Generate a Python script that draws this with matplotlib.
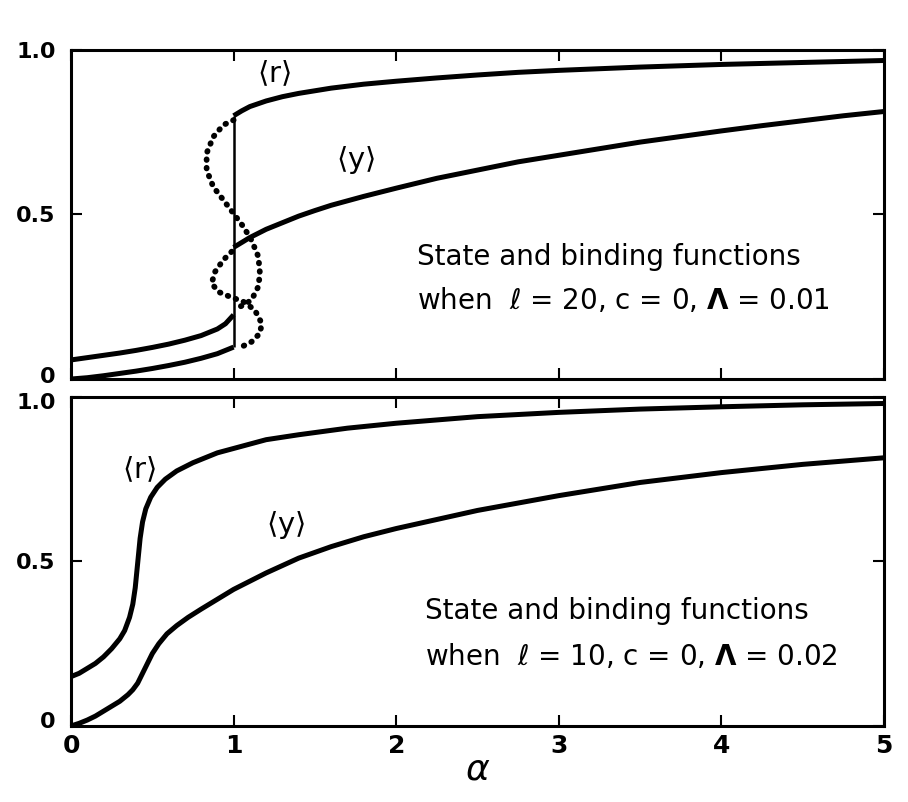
import numpy as np
import matplotlib.pyplot as plt
import matplotlib.transforms as mtransforms

# ============================================================
# DADOS
# ============================================================
# painel superior: l = 20, c = 0, Lambda = 0.01
r_baixo_x = [0.0, 0.1, 0.2, 0.3, 0.4, 0.5, 0.6, 0.7, 0.8, 0.9, 0.95, 1.0]
r_baixo_y = [0.058, 0.065, 0.072, 0.079, 0.087, 0.096, 0.106, 0.118, 0.132, 0.152, 0.168, 0.195]
y_baixo_x = [0.0, 0.1, 0.2, 0.3, 0.4, 0.5, 0.6, 0.7, 0.8, 0.9, 1.0]
y_baixo_y = [0.0, 0.004, 0.01, 0.017, 0.024, 0.032, 0.041, 0.051, 0.063, 0.077, 0.097]

r_cima_x = [1.0, 1.05, 1.1, 1.2, 1.3, 1.4, 1.6, 1.8, 2.0, 2.25, 2.5, 2.75, 3.0, 3.5, 4.0, 4.5, 5.0]
r_cima_y = [0.80, 0.815, 0.828, 0.845, 0.858, 0.868, 0.884, 0.896, 0.905, 0.915, 0.924, 0.932, 0.938, 0.948, 0.956, 0.962, 0.968]
y_cima_x = [1.0, 1.05, 1.1, 1.2, 1.3, 1.4, 1.5, 1.6, 1.8, 2.0, 2.25, 2.5, 2.75, 3.0, 3.25, 3.5,
            3.75, 4.0, 4.25, 4.5, 4.75, 5.0]
y_cima_y = [0.40, 0.415, 0.43, 0.455, 0.475, 0.495, 0.512, 0.528, 0.555, 0.58, 0.61, 0.635, 0.66, 0.68,
            0.70, 0.72, 0.737, 0.754, 0.77, 0.785, 0.80, 0.813]

# ramos instáveis (pontilhado)
r_inst_x = [1.0, 0.937, 0.875, 0.834, 0.834, 0.875, 0.937, 0.998, 1.06, 1.11, 1.152, 1.162,
            1.152, 1.11, 1.06, 1.019]
r_inst_y = [0.787, 0.772, 0.736, 0.686, 0.635, 0.584, 0.544, 0.504, 0.463, 0.422, 0.372, 0.321,
            0.281, 0.24, 0.225, 0.215]
y_inst_x = [0.988, 0.937, 0.886, 0.865, 0.906, 0.978, 1.06, 1.13, 1.173, 1.162, 1.11, 1.05]
y_inst_y = [0.387, 0.362, 0.326, 0.291, 0.265, 0.25, 0.235, 0.21, 0.169, 0.139, 0.113, 0.098]

salto_x = 1.0
salto_y = [0.097, 0.80]

# painel inferior: l = 10, c = 0, Lambda = 0.02
r2_x = [0.0, 0.05, 0.1, 0.15, 0.2, 0.25, 0.3, 0.33, 0.36, 0.38, 0.395, 0.405, 0.415, 0.425, 0.44,
        0.46, 0.49, 0.53, 0.58, 0.65, 0.75, 0.9, 1.05, 1.2, 1.4, 1.7, 2.0, 2.5, 3.0, 3.5, 4.0, 4.5, 5.0]
r2_y = [0.15, 0.16, 0.175, 0.19, 0.21, 0.235, 0.265, 0.29, 0.33, 0.37, 0.42, 0.47, 0.52, 0.57, 0.62,
        0.66, 0.695, 0.725, 0.75, 0.775, 0.80, 0.83, 0.85, 0.87, 0.885, 0.905, 0.92, 0.94, 0.953,
        0.963, 0.97, 0.976, 0.98]
y2_x = [0.0, 0.05, 0.1, 0.15, 0.2, 0.25, 0.3, 0.35, 0.38, 0.41, 0.44, 0.47, 0.5, 0.54, 0.59, 0.65,
        0.72, 0.8, 0.9, 1.0, 1.1, 1.2, 1.4, 1.6, 1.8, 2.0, 2.5, 3.0, 3.5, 4.0, 4.5, 5.0]
y2_y = [0.0, 0.008, 0.018, 0.03, 0.045, 0.06, 0.075, 0.095, 0.11, 0.13, 0.16, 0.19, 0.22, 0.25, 0.28,
        0.305, 0.33, 0.355, 0.385, 0.415, 0.44, 0.465, 0.51, 0.545, 0.575, 0.60, 0.655, 0.70, 0.74,
        0.77, 0.795, 0.815]

xticks = [0, 1, 2, 3, 4, 5]
xlabels = ['0', '1', '2', '3', '4', '5']
yticks = [0, 0.5, 1.0]
ylabels = ['0', '0.5', '1.0']

texto_cima = ["State and binding functions",
              r"when  $\ell$ = 20, c = 0, $\mathbf{\Lambda}$ = 0.01"]
texto_baixo = ["State and binding functions",
               r"when  $\ell$ = 10, c = 0, $\mathbf{\Lambda}$ = 0.02"]

# ============================================================
# FIGURA
# ============================================================
plt.rcParams['mathtext.fontset'] = 'dejavusans'

fig = plt.figure(figsize=(9.08, 8.02), dpi=100)
ax1 = fig.add_axes([0.0782, 0.5274, 0.8954, 0.4103])
ax2 = fig.add_axes([0.0782, 0.0948, 0.8954, 0.4103])

LW = 3.6
PONTOS = (0, (0.1, 1.35))

def formatar(ax, mostrar_x):
    ax.set_xlim(0, 5)
    ax.set_ylim(0, 1.0)
    for s in ax.spines.values():
        s.set_linewidth(2.2)
    ax.set_xticks(xticks)
    ax.set_yticks(yticks)
    ax.set_yticklabels(ylabels, fontsize=16, fontweight='bold')
    if mostrar_x:
        ax.set_xticklabels(xlabels, fontsize=18, fontweight='bold')
    else:
        ax.set_xticklabels([])
    ax.tick_params(direction='in', length=8, width=1.5, top=True, right=True)
    ax.tick_params(axis='y', pad=11)
    ax.tick_params(axis='x', pad=6)

def deslocar(label, dy_px):
    label.set_transform(label.get_transform() +
                        mtransforms.ScaledTranslation(0, dy_px / 100, fig.dpi_scale_trans))

# --- painel superior ---
ax1.plot(r_baixo_x, r_baixo_y, color='black', lw=LW, solid_capstyle='butt')
ax1.plot(y_baixo_x, y_baixo_y, color='black', lw=LW, solid_capstyle='butt')
ax1.plot(r_cima_x, r_cima_y, color='black', lw=LW, solid_capstyle='butt')
ax1.plot(y_cima_x, y_cima_y, color='black', lw=LW, solid_capstyle='butt')
ax1.vlines(salto_x, salto_y[0], salto_y[1], color='black', lw=1.8)
ax1.plot(r_inst_x, r_inst_y, color='black', lw=4.2, linestyle=PONTOS, dash_capstyle='round')
ax1.plot(y_inst_x, y_inst_y, color='black', lw=4.2, linestyle=PONTOS, dash_capstyle='round')
ax1.text(1.25, 0.93, r'$\langle \mathrm{r} \rangle$', fontsize=21, ha='center', va='center')
ax1.text(1.75, 0.665, r'$\langle \mathrm{y} \rangle$', fontsize=21, ha='center', va='center')
ax1.text(2.13, 0.37, texto_cima[0], fontsize=20, ha='left', va='center')
ax1.text(2.13, 0.24, texto_cima[1], fontsize=20, ha='left', va='center')
formatar(ax1, False)

# --- painel inferior ---
ax2.plot(r2_x, r2_y, color='black', lw=LW)
ax2.plot(y2_x, y2_y, color='black', lw=LW)
ax2.text(0.42, 0.78, r'$\langle \mathrm{r} \rangle$', fontsize=21, ha='center', va='center')
ax2.text(1.32, 0.61, r'$\langle \mathrm{y} \rangle$', fontsize=21, ha='center', va='center')
ax2.text(2.18, 0.35, texto_baixo[0], fontsize=20, ha='left', va='center')
ax2.text(2.18, 0.21, texto_baixo[1], fontsize=20, ha='left', va='center')
formatar(ax2, True)
ax2.set_xlabel(r'$\alpha$', fontsize=26, labelpad=-4)

# afastar os rótulos que se tocam entre os painéis
deslocar(ax1.get_yticklabels()[0], 4)
deslocar(ax2.get_yticklabels()[2], -4)
deslocar(ax2.get_yticklabels()[0], 6)

plt.savefig('out.png', dpi=100)
